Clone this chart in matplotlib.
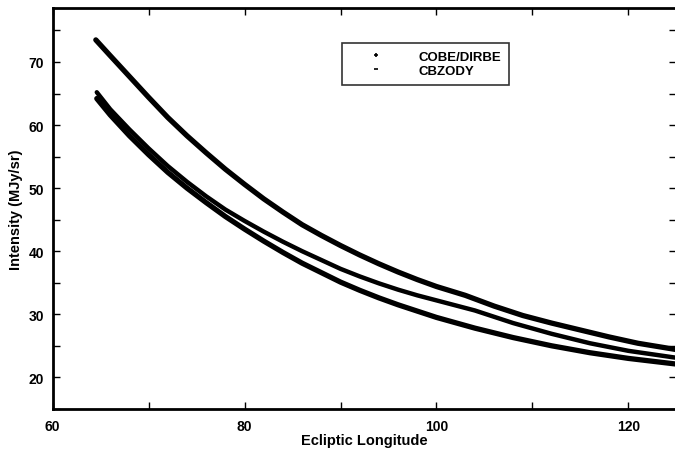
import matplotlib
matplotlib.use("Agg")
import matplotlib.pyplot as plt
from matplotlib.lines import Line2D
from matplotlib.ticker import MultipleLocator

plt.rcParams['font.family'] = ['Liberation Sans', 'DejaVu Sans']
plt.rcParams['font.weight'] = 'bold'

# upper band (COBE/DIRBE)
dirbe_x = [64.5, 66, 68, 70, 72, 74, 76, 78, 80, 82, 84, 86, 88, 90, 92, 94, 96, 98,
           100, 103, 106, 109, 112, 115, 118, 121, 125]
dirbe_y = [73.5, 71.0, 67.7, 64.4, 61.2, 58.3, 55.6, 53.0, 50.6, 48.3, 46.2, 44.2,
           42.5, 40.9, 39.4, 38.0, 36.7, 35.5, 34.4, 33.0, 31.3, 29.8, 28.6, 27.5,
           26.4, 25.4, 24.4]

# lower band (COBE/DIRBE, second set)
dirbe2_x = [64.6, 66, 68, 70, 72, 74, 76, 78, 80, 82, 84, 86, 88, 90, 92, 94, 96, 98,
            100, 104, 108, 112, 116, 120, 125]
dirbe2_y = [64.2, 61.6, 58.3, 55.3, 52.5, 50.0, 47.7, 45.5, 43.5, 41.6, 39.8, 38.1,
            36.6, 35.1, 33.8, 32.6, 31.5, 30.5, 29.5, 27.8, 26.3, 25.0, 23.9, 23.0, 22.1]

# middle band (CBZODY)
zody_x = [64.6, 66, 68, 70, 72, 74, 76, 78, 80, 82, 84, 86, 88, 90, 92, 94, 96, 98,
          100, 104, 108, 112, 116, 120, 125]
zody_y = [65.2, 62.5, 59.3, 56.3, 53.5, 51.0, 48.7, 46.6, 44.8, 43.1, 41.5, 40.0,
          38.6, 37.2, 36.0, 34.9, 33.9, 33.0, 32.2, 30.6, 28.6, 26.9, 25.4, 24.2, 23.1]

fig = plt.figure(figsize=(6.75, 4.6), dpi=100)
ax = fig.add_axes([0.078, 0.109, 0.924, 0.872])

band = dict(color='black', lw=3.8, solid_capstyle='round', solid_joinstyle='round')
ax.plot(dirbe_x, dirbe_y, **band)
ax.plot(dirbe2_x, dirbe2_y, **band)
ax.plot(zody_x, zody_y, color='black', lw=3.2, solid_capstyle='round',
        solid_joinstyle='round')

ax.set_xlim(60, 125)
ax.set_ylim(15, 78.6)
ax.set_xticks([60, 80, 100, 120])
ax.set_yticks([20, 30, 40, 50, 60, 70])
ax.xaxis.set_minor_locator(MultipleLocator(10))
ax.yaxis.set_minor_locator(MultipleLocator(5))
ax.tick_params(which='both', direction='in', top=True, right=True,
               length=5, width=1, labelsize=10)
ax.tick_params(axis='x', pad=7)
ax.tick_params(axis='y', pad=6)
for s in ax.spines.values():
    s.set_linewidth(2)

ax.set_xlabel('Ecliptic Longitude', fontsize=10.5, fontweight='bold', labelpad=0)
ax.set_ylabel('Intensity (MJy/sr)', fontsize=10.5, fontweight='bold', labelpad=4)

handles = [Line2D([], [], color='black', marker='+', ls='none', markersize=3, mew=1.2),
           Line2D([], [], color='black', marker='_', ls='none', markersize=3, mew=1.2)]
leg = ax.legend(handles, ['COBE/DIRBE', 'CBZODY'], loc='upper left',
                bbox_to_anchor=(0.464, 0.913), fontsize=9.5, frameon=True,
                fancybox=False, edgecolor='black', borderpad=0.6,
                handlelength=4.0, handletextpad=1.2, labelspacing=0.15,
                borderaxespad=0)
leg.get_frame().set_linewidth(1.2)

fig.savefig('out.png', dpi=100)
